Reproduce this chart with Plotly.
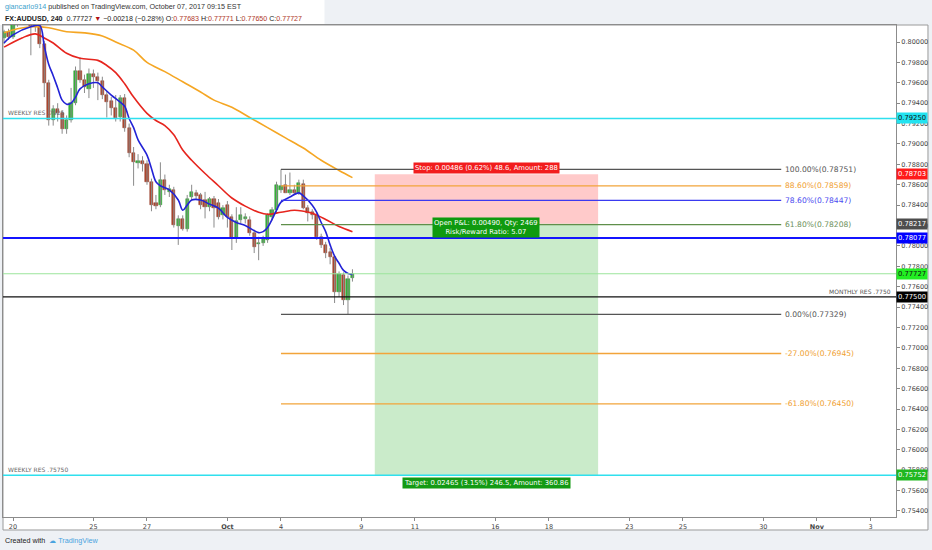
import plotly.graph_objects as go

FONT = "DejaVu Sans"

# 4H candles, x = bar number (0 = first bar of Sep 20, six bars per trading day)
bars = list(range(-2, 77))
opens = [0.8004, 0.8010, 0.8005, 0.8018, 0.8026, 0.8022, 0.8028, 0.8016, 0.8018, 0.7998,
         0.7960, 0.7924, 0.7934, 0.7930, 0.7915, 0.7924, 0.7940, 0.7972, 0.7963, 0.7954,
         0.7969, 0.7966, 0.7962, 0.7948, 0.7942, 0.7935, 0.7926, 0.7945, 0.7916, 0.7891,
         0.7881, 0.7883, 0.7880, 0.7863, 0.7842, 0.7840, 0.7865, 0.7853, 0.7855, 0.7820,
         0.7826, 0.7817, 0.7848, 0.7852, 0.7850, 0.7845, 0.7838, 0.7846, 0.7842, 0.7830,
         0.7840, 0.7828, 0.7808, 0.7825, 0.7826, 0.7825, 0.7813, 0.7802, 0.7803, 0.7806,
         0.7828, 0.7835, 0.7855, 0.7860, 0.7852, 0.7855, 0.7852, 0.7861, 0.7837, 0.7833,
         0.7830, 0.7809, 0.7801, 0.7794, 0.7789, 0.7755, 0.7771, 0.7747, 0.77683]
highs = [0.8012, 0.8013, 0.8022, 0.8030, 0.8032, 0.8034, 0.8031, 0.8024, 0.8022, 0.8001,
         0.7963, 0.7938, 0.7940, 0.7933, 0.7928, 0.7955, 0.7976, 0.7985, 0.7968, 0.7974,
         0.7973, 0.7970, 0.7966, 0.7952, 0.7946, 0.7948, 0.7948, 0.7949, 0.7920, 0.7897,
         0.7890, 0.7888, 0.7884, 0.7866, 0.7850, 0.7882, 0.7870, 0.7860, 0.7858, 0.7830,
         0.7830, 0.7850, 0.7860, 0.7855, 0.7852, 0.7853, 0.7848, 0.7849, 0.7846, 0.7840,
         0.7844, 0.7831, 0.7838, 0.7838, 0.7832, 0.7829, 0.7816, 0.7809, 0.7810, 0.7832,
         0.7838, 0.7863, 0.78751, 0.7870, 0.7872, 0.7860, 0.7865, 0.7865, 0.7840, 0.7836,
         0.7833, 0.7812, 0.7804, 0.7798, 0.7791, 0.7775, 0.7774, 0.7771, 0.77771]
lows = [0.7998, 0.8002, 0.8003, 0.8015, 0.8018, 0.8019, 0.7987, 0.8010, 0.7994, 0.7946,
        0.7918, 0.7918, 0.7922, 0.7910, 0.7910, 0.7921, 0.7938, 0.7960, 0.7950, 0.7945,
        0.7955, 0.7943, 0.7944, 0.7926, 0.7928, 0.7922, 0.7922, 0.7912, 0.7887, 0.7859,
        0.7876, 0.7873, 0.7860, 0.7834, 0.7836, 0.7838, 0.7850, 0.7848, 0.7818, 0.7801,
        0.7815, 0.7814, 0.7844, 0.7846, 0.7836, 0.7827, 0.7834, 0.7818, 0.7826, 0.7826,
        0.7818, 0.7796, 0.7803, 0.7822, 0.7822, 0.7810, 0.7793, 0.7786, 0.7800, 0.7803,
        0.7825, 0.7832, 0.7852, 0.7852, 0.7850, 0.7850, 0.7850, 0.7836, 0.7824, 0.7826,
        0.7806, 0.7798, 0.7788, 0.7782, 0.7744, 0.7750, 0.7742, 0.77329, 0.77650]
closes = [0.8010, 0.8005, 0.8018, 0.8026, 0.8022, 0.8028, 0.8016, 0.8018, 0.7998, 0.7960,
          0.7924, 0.7934, 0.7930, 0.7915, 0.7924, 0.7940, 0.7972, 0.7963, 0.7956, 0.7969,
          0.7966, 0.7962, 0.7948, 0.7941, 0.7935, 0.7925, 0.7945, 0.7916, 0.7891, 0.7882,
          0.7883, 0.7880, 0.7863, 0.7840, 0.7839, 0.7865, 0.7855, 0.7856, 0.7821, 0.7826,
          0.7817, 0.7846, 0.7853, 0.7849, 0.7840, 0.7838, 0.7846, 0.7837, 0.7828, 0.7837,
          0.7828, 0.7808, 0.7824, 0.7830, 0.7828, 0.7813, 0.7799, 0.7803, 0.7808, 0.7830,
          0.7835, 0.7860, 0.7859, 0.7852, 0.7855, 0.7852, 0.7862, 0.7837, 0.7832, 0.7830,
          0.7809, 0.7801, 0.7793, 0.7789, 0.7755, 0.7772, 0.7747, 0.7768, 0.77727]

# moving averages (bar number, price)
fast_ma_bars = [-2, 0, 4, 6, 7, 8, 9, 10, 11, 12, 13, 14, 15, 17, 19, 20, 22, 24, 25, 26,
                27, 28, 30, 31, 32, 33, 35, 37, 38, 39, 40, 42, 44, 46, 48, 50, 52, 54, 55,
                56, 57, 59, 60, 62, 64, 65, 67, 68, 69, 70, 71, 72, 73, 74, 75, 76]
fast_ma = [0.7999, 0.8007, 0.8015, 0.8016, 0.7996, 0.7978, 0.7967, 0.7955, 0.7943, 0.7939,
           0.7940, 0.7946, 0.7954, 0.7959, 0.7960, 0.7956, 0.7948, 0.7941, 0.7937, 0.7925,
           0.7916, 0.7904, 0.7889, 0.7876, 0.7863, 0.7859, 0.7855, 0.7845, 0.7835, 0.7840,
           0.7845, 0.7845, 0.7841, 0.7837, 0.7828, 0.7823, 0.7820, 0.7815, 0.7813, 0.7814,
           0.7818, 0.7835, 0.7843, 0.7848, 0.7852, 0.7849, 0.7840, 0.7833, 0.7823, 0.7814,
           0.7801, 0.7790, 0.7783, 0.7776, 0.7773, 0.7772]
mid_ma_bars = [-2, 2, 5, 7, 9, 12, 15, 19, 21, 23, 25, 27, 30, 32, 34, 36, 38, 40, 43, 46,
               49, 52, 55, 57, 60, 63, 65, 67, 70, 73, 76]
mid_ma = [0.7995, 0.8004, 0.8008, 0.8004, 0.7999, 0.7989, 0.7984, 0.7982, 0.7977, 0.7970,
          0.7959, 0.7946, 0.7930, 0.7923, 0.7918, 0.7909, 0.7894, 0.7884, 0.7871, 0.7859,
          0.7847, 0.7839, 0.7833, 0.7831, 0.7833, 0.7835, 0.7834, 0.7832, 0.7826, 0.7819,
          0.7814]
slow_ma_bars = [-2, 1, 4, 8, 12, 16, 20, 23, 27, 30, 34, 38, 42, 45, 49, 53, 57, 61, 65,
                69, 73, 76]
slow_ma = [0.8009, 0.8013, 0.8015, 0.8014, 0.8010, 0.8009, 0.8006, 0.8000, 0.7992, 0.7980,
           0.7971, 0.7961, 0.7951, 0.7943, 0.7936, 0.7926, 0.7916, 0.7906, 0.7896, 0.7884,
           0.7874, 0.7867]

# x-axis: trading-day number -> label
BARS_PER_DAY = 6
tick_days = [0, 3, 5, 8, 10, 13, 15, 18, 20, 23, 25, 28, 30, 32]
tick_labels = ["20", "25", "27", "<b>Oct</b>", "4", "9", "11", "16", "18", "23", "25",
               "30", "<b>Nov</b>", "3"]

# drawn horizontal levels
weekly_res_top = 0.7925
weekly_res_bottom = 0.7575
monthly_res = 0.7750
blue_level = 0.78077
last_price = 0.77727

# fibonacci retracement
fib_start, fib_end = 60, 172
fib_pcts = ["100.00%", "88.60%", "78.60%", "61.80%", "0.00%", "-27.00%", "-61.80%"]
fib_prices = [0.78751, 0.78589, 0.78447, 0.78208, 0.77329, 0.76945, 0.76450]
fib_colors = ["#555555", "#f2a43a", "#3a3af0", "#5f8f4a", "#555555", "#f2a43a", "#f2a43a"]
fib_text_colors = ["#555555", "#f0a030", "#4a4af0", "#6b8f5a", "#555555", "#f0a030", "#f0a030"]

# short position tool
pos_start, pos_end = 81, 131
entry, stop, target = 0.78217, 0.78703, 0.75752

# price tags on the right axis
tag_prices = [0.79250, 0.78703, 0.78217, 0.78077, 0.77727, 0.77500, 0.75752]
tag_bg = ["#22e3f0", "#ff1a1a", "#4d4d4d", "#0000ff", "#22ee22", "#000000", "#1fb81f"]
tag_fg = ["#111111", "#ffffff", "#ffffff", "#ffffff", "#111111", "#ffffff", "#ffffff"]

fig = go.Figure()

# position boxes (under everything)
fig.add_shape(type="rect", x0=pos_start, x1=pos_end, y0=entry, y1=stop,
              fillcolor="rgba(255,60,60,0.27)", line_width=0, layer="below")
fig.add_shape(type="rect", x0=pos_start, x1=pos_end, y0=target, y1=entry,
              fillcolor="rgba(60,180,60,0.27)", line_width=0, layer="below")

# full-width horizontal lines
fig.add_hline(y=weekly_res_top, line_color="#2fe0ee", line_width=1.6)
fig.add_hline(y=weekly_res_bottom, line_color="#2fe0ee", line_width=1.6)
fig.add_hline(y=blue_level, line_color="#1414ff", line_width=2)
fig.add_hline(y=monthly_res, line_color="#111111", line_width=1.4)
fig.add_hline(y=last_price, line_color="#9be59b", line_width=1)

# fib lines
for p, c in zip(fib_prices, fib_colors):
    fig.add_shape(type="line", x0=fib_start, x1=fib_end, y0=p, y1=p,
                  line=dict(color=c, width=1.3))

# candle wicks
wick_x, wick_y = [], []
for b, h, l in zip(bars, highs, lows):
    wick_x += [b, b, None]
    wick_y += [l, h, None]
fig.add_trace(go.Scatter(x=wick_x, y=wick_y, mode="lines",
                         line=dict(color="#8a8a8a", width=1), hoverinfo="skip"))

# candle bodies
body_base, body_len, body_col, body_edge = [], [], [], []
for o, c in zip(opens, closes):
    body_base.append(min(o, c))
    body_len.append(max(abs(c - o), 0.00004))
    up = c >= o
    body_col.append("#36b43a" if up else "#b0472e")
    body_edge.append("#2a8f2d" if up else "#8c3724")
fig.add_trace(go.Bar(x=bars, y=body_len, base=body_base, width=0.72,
                     marker=dict(color=body_col, line=dict(color=body_edge, width=0.5))))

# moving averages
fig.add_trace(go.Scatter(x=slow_ma_bars, y=slow_ma, mode="lines", line_shape="spline",
                         line=dict(color="#f5a623", width=1.6)))
fig.add_trace(go.Scatter(x=mid_ma_bars, y=mid_ma, mode="lines", line_shape="spline",
                         line=dict(color="#e6251e", width=1.6)))
fig.add_trace(go.Scatter(x=fast_ma_bars, y=fast_ma, mode="lines", line_shape="spline",
                         line=dict(color="#2323d6", width=1.6)))

# fib labels
for pct, p, c in zip(fib_pcts, fib_prices, fib_text_colors):
    fig.add_annotation(x=fib_end, y=p, text=f"{pct}({p:.5f})", showarrow=False,
                       xanchor="left", xshift=2, font=dict(family=FONT, size=7.6, color=c))

# position labels
mid_pos = (pos_start + pos_end) / 2
fig.add_annotation(x=mid_pos, y=stop, yanchor="bottom", yshift=0, showarrow=False,
                   text="Stop: 0.00486 (0.62%) 48.6, Amount: 288",
                   bgcolor="#f21d1d", borderpad=1,
                   font=dict(family=FONT, size=6.8, color="white"))
fig.add_annotation(x=mid_pos, y=entry, yanchor="middle", yshift=-4, showarrow=False,
                   text="Open P&L: 0.00490, Qty: 2469<br>Risk/Reward Ratio: 5.07",
                   bgcolor="#0f9a0f", borderpad=1,
                   font=dict(family=FONT, size=6.8, color="white"))
fig.add_annotation(x=mid_pos, y=target, yanchor="top", yshift=-2, showarrow=False,
                   text="Target: 0.02465 (3.15%) 246.5, Amount: 360.86",
                   bgcolor="#139a13", borderpad=1,
                   font=dict(family=FONT, size=6.8, color="white"))

# level labels
fig.add_annotation(xref="paper", x=0, xanchor="left", xshift=3, y=weekly_res_top,
                   yanchor="bottom", showarrow=False, text="WEEKLY RES .7925",
                   font=dict(family=FONT, size=6, color="#666666"))
fig.add_annotation(xref="paper", x=0, xanchor="left", xshift=3, y=weekly_res_bottom,
                   yanchor="bottom", showarrow=False, text="WEEKLY RES .75750",
                   font=dict(family=FONT, size=6, color="#666666"))
fig.add_annotation(xref="paper", x=1, xanchor="right", xshift=-3, y=monthly_res,
                   yanchor="bottom", showarrow=False, text="MONTHLY RES .7750",
                   font=dict(family=FONT, size=6, color="#555555"))

# right-axis price tags
for p, bg, fg in zip(tag_prices, tag_bg, tag_fg):
    fig.add_annotation(xref="paper", x=1, xanchor="left", y=p, showarrow=False,
                       text=f"{p:.5f}", width=30, height=10, bgcolor=bg, borderpad=0,
                       font=dict(family=FONT, size=6.8, color=fg))

# header
fig.add_annotation(xref="paper", yref="paper", x=0, y=1.037, xanchor="left", yanchor="middle",
                   showarrow=False, align="left",
                   text="<span style='color:#3d9fcc'>giancarlo914</span> published on "
                        "TradingView.com, October 07, 2017 09:15 EST",
                   font=dict(family="Liberation Sans", size=7.2, color="#333333"))
fig.add_annotation(xref="paper", yref="paper", x=0, y=1.012, xanchor="left", yanchor="middle",
                   showarrow=False, align="left",
                   text="<b>FX:AUDUSD, 240</b>  0.77727 <span style='color:#b01010'>▼</span> "
                        "−0.00218 (−0.28%) O:<span style='color:#b0392b'>0.77683</span> "
                        "H:<span style='color:#b0392b'>0.77771</span> "
                        "L:<span style='color:#b0392b'>0.77650</span> "
                        "C:<span style='color:#b0392b'>0.77727</span>",
                   font=dict(family="Liberation Sans", size=7.1, color="#222222"))

# footer
fig.add_annotation(xref="paper", yref="paper", x=0, y=-0.047, xanchor="left", yanchor="middle",
                   showarrow=False, align="left",
                   text="Created with  <span style='color:#4aa3df'>☁ TradingView</span>",
                   font=dict(family="Liberation Sans", size=7.2, color="#222222"))

# white chart panel on grey page
fig.add_shape(type="rect", xref="paper", yref="paper", x0=0, x1=1.0358, y0=-0.0264, y1=1,
              fillcolor="white", line=dict(color="#9a9a9a", width=1), layer="below")
fig.add_shape(type="rect", xref="paper", yref="paper", x0=-0.0034, x1=0.36, y0=1, y1=1.051,
              fillcolor="white", line_width=0, layer="below")

fig.update_xaxes(range=[-2.24, 197.7], tickvals=[d * BARS_PER_DAY for d in tick_days],
                 ticktext=tick_labels, ticks="outside", ticklen=3, tickcolor="#888888",
                 showgrid=False, zeroline=False, showline=True, mirror=True,
                 linecolor="#8c8c8c", linewidth=1,
                 tickfont=dict(family=FONT, size=6.5, color="#444444"))
fig.update_yaxes(range=[0.75341, 0.80167], side="right", dtick=0.002, tick0=0.754,
                 tickformat=".5f", ticks="outside", ticklen=3, tickcolor="#888888",
                 showgrid=False, zeroline=False, showline=True, mirror=True,
                 linecolor="#8c8c8c", linewidth=1,
                 tickfont=dict(family=FONT, size=6.5, color="#444444"))

fig.update_layout(
    width=932, height=550,
    margin=dict(l=3, r=36, t=25, b=33),
    paper_bgcolor="#eef1f5", plot_bgcolor="white",
    showlegend=False, bargap=0, hovermode=False,
)

# drop the page's default body margin so the figure sits at the window corner
fig.write_html("out.html", config={"displayModeBar": False},
               post_script="document.body.style.margin='0';")
